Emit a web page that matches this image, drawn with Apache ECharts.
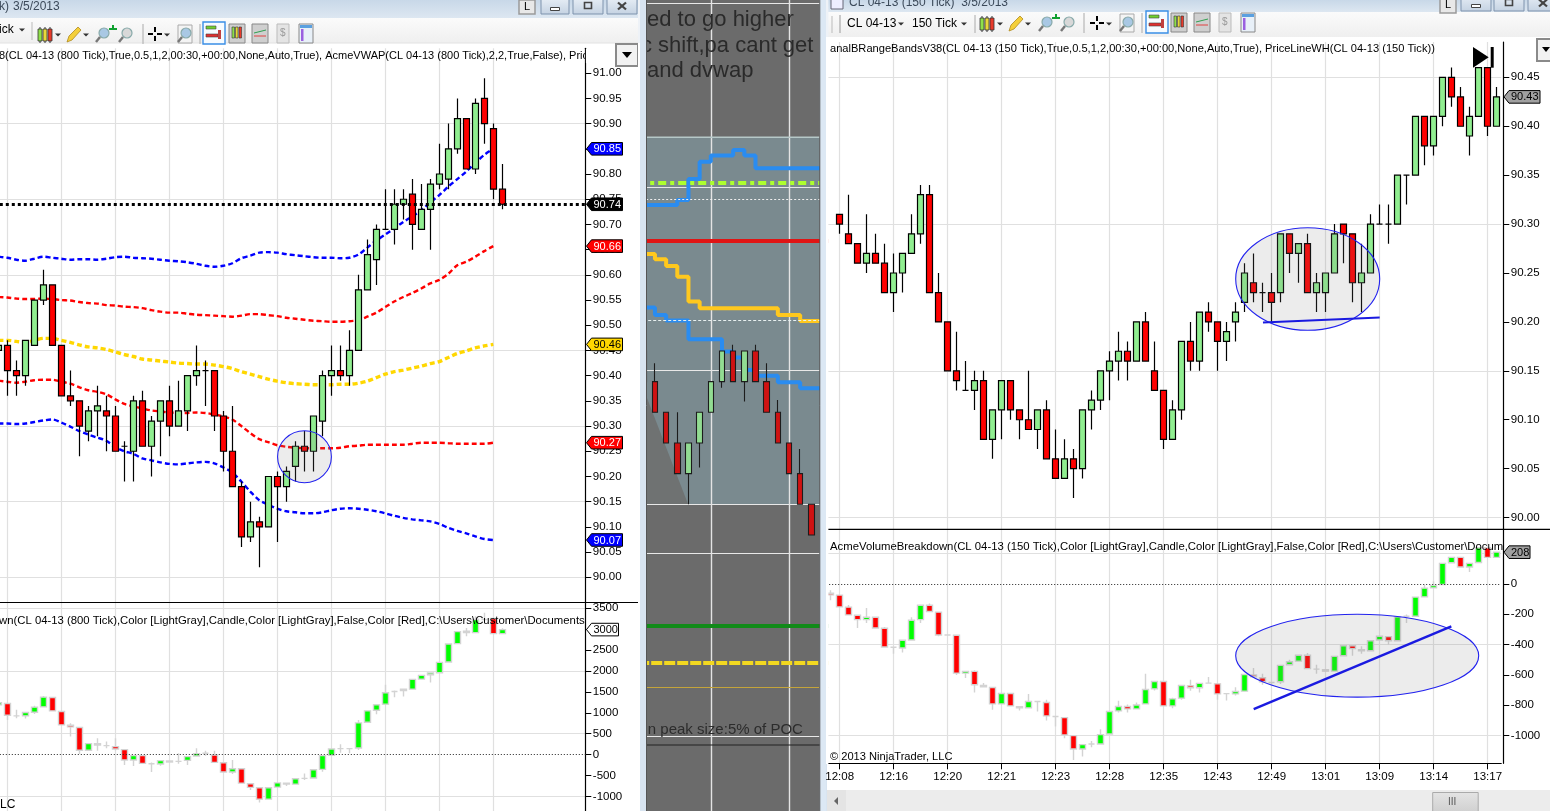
<!DOCTYPE html>
<html><head><meta charset="utf-8">
<style>html,body{margin:0;padding:0;background:#d8e4f0;overflow:hidden}#c{width:1550px;height:811px}</style>
<script src="https://cdn.jsdelivr.net/npm/echarts@6/dist/echarts.min.js"></script></head>
<body><div id="c"></div>
<script>
// ---------- LEFT CHART (800 tick) : bar k = -1 .. 55 ; [open, close, low, high]
const leftPrice=[[90.45,90.46,90.44,90.46],[90.46,90.41,90.36,90.47],[90.41,90.40,90.36,90.43],[90.40,90.47,90.38,90.47],[90.46,90.55,90.46,90.55],[90.55,90.58,90.54,90.61],[90.58,90.46,90.46,90.58],[90.46,90.36,90.36,90.46],[90.36,90.35,90.34,90.41],[90.35,90.30,90.24,90.35],[90.29,90.33,90.27,90.34],[90.33,90.34,90.28,90.38],[90.33,90.32,90.25,90.36],[90.32,90.25,90.25,90.34],[90.26,90.26,90.19,90.27],[90.25,90.35,90.19,90.36],[90.35,90.26,90.26,90.37],[90.26,90.31,90.20,90.32],[90.31,90.35,90.24,90.35],[90.35,90.30,90.28,90.38],[90.30,90.33,90.30,90.39],[90.33,90.40,90.29,90.40],[90.40,90.41,90.38,90.46],[90.41,90.41,90.34,90.43],[90.41,90.32,90.29,90.41],[90.32,90.25,90.21,90.33],[90.25,90.18,90.18,90.34],[90.18,90.08,90.06,90.19],[90.08,90.11,90.07,90.15],[90.11,90.10,90.02,90.12],[90.10,90.20,90.10,90.20],[90.20,90.18,90.07,90.21],[90.18,90.21,90.15,90.22],[90.22,90.26,90.19,90.27],[90.26,90.25,90.21,90.29],[90.25,90.32,90.21,90.32],[90.31,90.40,90.28,90.41],[90.40,90.41,90.36,90.46],[90.41,90.40,90.39,90.46],[90.40,90.45,90.38,90.49],[90.45,90.57,90.45,90.60],[90.57,90.64,90.57,90.67],[90.63,90.69,90.58,90.70],[90.69,90.69,90.69,90.77],[90.69,90.74,90.66,90.77],[90.74,90.75,90.71,90.77],[90.76,90.70,90.65,90.79],[90.69,90.73,90.69,90.78],[90.73,90.78,90.65,90.79],[90.78,90.80,90.77,90.86],[90.79,90.85,90.77,90.90],[90.85,90.91,90.84,90.95],[90.91,90.81,90.81,90.91],[90.81,90.94,90.80,90.95],[90.95,90.90,90.86,90.99],[90.89,90.77,90.75,90.90],[90.77,90.74,90.73,90.82]];
const leftUpper2=[90.636,90.634,90.630,90.628,90.632,90.636,90.634,90.632,90.630,90.631,90.631,90.630,90.632,90.635,90.636,90.634,90.633,90.632,90.630,90.628,90.627,90.625,90.622,90.618,90.616,90.618,90.623,90.633,90.638,90.644,90.645,90.644,90.641,90.639,90.637,90.635,90.634,90.634,90.633,90.634,90.640,90.654,90.668,90.680,90.692,90.705,90.716,90.728,90.744,90.758,90.775,90.790,90.805,90.822,90.838,90.850];
const leftUpper1=[90.556,90.555,90.553,90.552,90.552,90.553,90.552,90.550,90.549,90.546,90.544,90.543,90.540,90.539,90.537,90.536,90.534,90.530,90.527,90.525,90.525,90.523,90.521,90.520,90.519,90.518,90.517,90.519,90.522,90.522,90.520,90.518,90.515,90.513,90.511,90.509,90.508,90.507,90.507,90.508,90.510,90.517,90.525,90.536,90.547,90.556,90.564,90.573,90.583,90.590,90.602,90.619,90.626,90.636,90.647,90.657];
const leftMid=[90.470,90.470,90.468,90.466,90.470,90.474,90.474,90.470,90.466,90.461,90.457,90.455,90.452,90.447,90.442,90.438,90.433,90.431,90.429,90.427,90.425,90.424,90.423,90.423,90.421,90.418,90.414,90.408,90.403,90.398,90.393,90.389,90.386,90.384,90.383,90.382,90.382,90.382,90.383,90.383,90.385,90.389,90.396,90.403,90.408,90.411,90.415,90.419,90.424,90.428,90.436,90.444,90.449,90.455,90.459,90.462];
const leftLower1=[90.390,90.388,90.386,90.388,90.391,90.392,90.392,90.388,90.384,90.377,90.371,90.368,90.363,90.353,90.344,90.339,90.335,90.331,90.329,90.327,90.326,90.326,90.327,90.326,90.323,90.319,90.313,90.300,90.286,90.274,90.268,90.262,90.259,90.257,90.256,90.256,90.256,90.256,90.257,90.260,90.261,90.263,90.263,90.263,90.263,90.263,90.265,90.267,90.267,90.267,90.266,90.265,90.265,90.265,90.265,90.267];
const leftLower2=[90.305,90.305,90.304,90.305,90.308,90.311,90.313,90.307,90.299,90.290,90.283,90.277,90.271,90.258,90.250,90.245,90.236,90.232,90.228,90.225,90.224,90.226,90.228,90.229,90.226,90.218,90.208,90.190,90.170,90.153,90.144,90.136,90.131,90.129,90.127,90.127,90.129,90.133,90.136,90.137,90.136,90.134,90.131,90.127,90.122,90.118,90.115,90.113,90.111,90.106,90.098,90.092,90.087,90.081,90.076,90.074];
const leftLastPrice=90.74;
const leftVolume=[[1190,1240,1190,1250],[1222,942,830,1222],[926,926,870,1070],[926,1006,860,1020],[1014,1134,970,1170],[1142,1374,1142,1400],[1366,1046,1046,1366],[1030,710,710,1030],[702,662,430,750],[646,102,14,646],[102,262,102,262],[262,230,94,390],[214,214,150,310],[190,134,100,390],[118,-130,-250,118],[-130,-26,-274,-26],[-26,-210,-210,-26],[-218,-218,-418,-190],[-226,-146,-266,-146],[-154,-178,-178,-154],[-162,-162,-220,30],[-138,-50,-250,-50],[-34,22,-34,150],[30,30,-30,94],[-10,-186,-186,94],[-194,-418,-418,-194],[-418,-338,-466,-130],[-338,-682,-682,-338],[-698,-786,-850,-698],[-794,-1066,-1146,-794],[-1066,-794,-1066,-794],[-778,-678,-790,-678],[-682,-706,-754,-682],[-706,-578,-706,-578],[-570,-570,-610,-450],[-562,-362,-562,-362],[-354,-26,-410,-26],[-18,134,-18,134],[142,142,46,246],[142,142,30,160],[158,758,110,830],[774,1046,774,1046],[1062,1190,966,1190],[1206,1478,1206,1670],[1510,1510,1374,1530],[1534,1566,1390,1566],[1566,1798,1566,1798],[1806,1894,1806,1894],[1910,1950,1726,1950],[1958,2206,1958,2206],[2214,2646,2214,2660],[2654,2942,2654,2942],[2950,2918,2830,3030],[2918,3230,2918,3310],[3230,3230,3230,3390],[3254,2894,2894,3254],[2894,2990,2894,3020]];
// ---------- MIDDLE PANEL : bar k = 0 .. 15
const midPrice=[[90.05,90.04,90.04,90.05],[90.04,90.03,90.03,90.046],[90.03,90.02,90.02,90.03],[90.02,90.01,90.01,90.03],[90.01,90.02,90.00,90.02],[90.02,90.03,90.012,90.03],[90.03,90.04,90.03,90.04],[90.04,90.05,90.038,90.05],[90.05,90.04,90.04,90.052],[90.04,90.05,90.0335,90.05],[90.05,90.04,90.04,90.052],[90.04,90.03,90.03,90.046],[90.03,90.02,90.02,90.034],[90.02,90.01,90.01,90.02],[90.01,90.00,90.00,90.018],[90.00,89.99,89.99,90.00]];
const midBlueUpper=[90.0976,90.0976,90.0976,90.0992,90.1061,90.1117,90.1137,90.1137,90.1155,90.1137,90.1096,90.1096,90.1096,90.1096,90.1096,90.1096,90.1096];
const midYellow=[90.0816,90.0799,90.0777,90.0742,90.0661,90.0639,90.0639,90.0639,90.0639,90.0639,90.0639,90.0639,90.0617,90.0617,90.0598,90.0598,90.0598];
const midBlueLower=[90.0642,90.0617,90.0599,90.0599,90.0538,90.0538,90.0538,90.0498,90.0479,90.0438,90.0419,90.0419,90.0398,90.0398,90.0378,90.0378,90.0378];
const midLevels={lime:90.105,dottedUp:90.0994,red:90.086,dottedLow:90.0599,green:89.9603,yellow:89.9485,gold:89.9405};
const midGridValues=[90.1635,90.1034,90.0438,90.0,89.984,89.9245];
// ---------- RIGHT CHART (150 tick) : bar k = -1 .. 73
const rightTimes=['12:08','12:16','12:20','12:21','12:23','12:28','12:35','12:43','12:49','13:01','13:09','13:14','13:17'];
const rightPrice=[[null,null,null,null],[90.31,90.30,90.29,90.31],[90.29,90.28,90.28,90.33],[90.28,90.26,90.26,90.28],[90.26,90.27,90.25,90.31],[90.27,90.26,90.26,90.29],[90.26,90.23,90.23,90.28],[90.23,90.25,90.21,90.27],[90.25,90.27,90.23,90.27],[90.27,90.29,90.27,90.31],[90.29,90.33,90.28,90.34],[90.33,90.23,90.23,90.34],[90.23,90.20,90.20,90.25],[90.20,90.15,90.15,90.20],[90.15,90.14,90.13,90.19],[90.13,90.13,90.13,90.16],[90.13,90.14,90.11,90.15],[90.14,90.08,90.08,90.15],[90.08,90.11,90.06,90.11],[90.11,90.14,90.08,90.14],[90.14,90.11,90.10,90.14],[90.11,90.10,90.08,90.11],[90.10,90.09,90.09,90.15],[90.09,90.11,90.07,90.11],[90.11,90.06,90.06,90.12],[90.06,90.04,90.04,90.09],[90.04,90.06,90.04,90.08],[90.06,90.05,90.02,90.07],[90.05,90.11,90.04,90.11],[90.11,90.12,90.09,90.13],[90.12,90.15,90.11,90.15],[90.15,90.16,90.12,90.17],[90.16,90.17,90.14,90.19],[90.17,90.16,90.14,90.18],[90.16,90.20,90.16,90.20],[90.20,90.16,90.16,90.21],[90.15,90.13,90.13,90.18],[90.13,90.08,90.07,90.13],[90.08,90.11,90.08,90.12],[90.11,90.18,90.10,90.18],[90.18,90.16,90.15,90.20],[90.16,90.21,90.15,90.21],[90.21,90.20,90.19,90.22],[90.20,90.18,90.15,90.20],[90.18,90.19,90.16,90.20],[90.20,90.21,90.18,90.22],[90.22,90.25,90.21,90.26],[90.24,90.23,90.22,90.27],[90.23,90.23,90.21,90.24],[90.23,90.22,90.20,90.25],[90.23,90.29,90.22,90.29],[90.29,90.27,90.25,90.29],[90.27,90.28,90.24,90.28],[90.28,90.23,90.23,90.29],[90.23,90.24,90.21,90.25],[90.23,90.25,90.21,90.25],[90.25,90.29,90.25,90.30],[90.30,90.29,90.26,90.30],[90.29,90.24,90.22,90.29],[90.24,90.25,90.21,90.28],[90.25,90.30,90.25,90.31],[90.30,90.30,90.30,90.32],[90.30,90.30,90.28,90.32],[90.30,90.35,90.30,90.35],[90.35,90.35,90.32,90.35],[90.35,90.41,90.35,90.41],[90.41,90.38,90.36,90.41],[90.38,90.41,90.37,90.41],[90.41,90.45,90.40,90.45],[90.45,90.43,90.42,90.46],[90.43,90.40,90.40,90.44],[90.39,90.41,90.37,90.42],[90.41,90.46,90.41,90.46],[90.46,90.40,90.39,90.46],[90.40,90.43,90.40,90.44]];
const rightVolume=[[-62,-73,-108,-42],[-75,-152,-152,-75],[-154,-205,-205,-140],[-207,-236,-291,-207],[-236,-220,-258,-159],[-220,-291,-291,-220],[-293,-416,-416,-285],[-418,-418,-460,-416],[-423,-372,-452,-372],[-370,-240,-370,-220],[-236,-141,-258,-141],[-141,-183,-183,-130],[-187,-337,-346,-187],[-337,-337,-337,-337],[-339,-588,-601,-339],[-588,-577,-621,-577],[-577,-665,-716,-570],[-670,-678,-678,-654],[-683,-791,-830,-683],[-791,-722,-791,-722],[-722,-804,-804,-722],[-810,-817,-835,-810],[-817,-775,-817,-725],[-775,-775,-841,-775],[-782,-870,-901,-764],[-874,-874,-940,-874],[-881,-995,-1017,-881],[-1000,-1088,-1160,-1000],[-1088,-1059,-1138,-1059],[-1055,-1055,-1077,-1035],[-1055,-993,-1055,-958],[-989,-841,-989,-841],[-837,-808,-848,-771],[-808,-824,-848,-795],[-824,-798,-824,-782],[-791,-696,-791,-593],[-692,-643,-703,-643],[-643,-804,-804,-643],[-804,-758,-819,-750],[-753,-670,-764,-670],[-672,-685,-705,-632],[-685,-656,-716,-656],[-654,-654,-654,-614],[-659,-725,-764,-659],[-723,-723,-769,-723],[-725,-709,-735,-681],[-707,-597,-707,-597],[-601,-612,-612,-555],[-619,-645,-665,-592],[-650,-650,-665,-650],[-645,-537,-660,-537],[-533,-513,-533,-500],[-509,-471,-509,-471],[-471,-559,-559,-456],[-562,-562,-592,-533],[-566,-575,-575,-566],[-575,-478,-575,-478],[-474,-408,-474,-408],[-408,-427,-474,-408],[-434,-441,-460,-412],[-441,-375,-441,-375],[-370,-346,-370,-346],[-348,-375,-401,-348],[-375,-218,-375,-218],[-214,-214,-258,-203],[-214,-88,-214,-88],[-86,-29,-86,-5],[-27,-11,-27,17],[-5,134,-5,134],[138,174,138,174],[174,110,110,174],[110,134,77,134],[140,237,140,237],[237,174,174,237],[174,208,174,208]];
const leftPriceTicks=[90,90.05,90.1,90.15,90.2,90.25,90.3,90.35,90.4,90.45,90.5,90.55,90.6,90.65,90.7,90.75,90.8,90.85,90.9,90.95,91];
const leftPriceGrid=[90,90.15,90.3,90.45,90.6,90.75,90.9];
const leftVolTicks=[-1000,-500,0,500,1000,1500,2000,2500,3000,3500];
const leftVolGrid=[-1000,500,2000,3500];
const rightPriceTicks=[90,90.05,90.1,90.15,90.2,90.25,90.3,90.35,90.4,90.45];
const rightPriceGrid=[90,90.15,90.3,90.45];
const rightVolTicks=[-1000,-800,-600,-400,-200,0];
const rightVolGrid=[-1000,-400,200];

// ---------- layout
const F='"Liberation Sans",Arial,sans-serif';
const BAND=9, GRID='#e0e0e0';
const L={left:-6.2,width:594,band:BAND,n:66,k0:-1};
const R={left:826.2,width:675,band:BAND,n:75,k0:-1};
const M={left:638.2,width:189.9,n:17};
const G={outerBoundsMode:'none',containLabel:false};
const grids=[
 Object.assign({left:L.left,top:48.3,width:L.width,height:554.2},G),
 Object.assign({left:L.left,top:602.5,width:L.width,height:208.5},G),
 Object.assign({left:M.left,top:0,width:M.width,height:811},G),
 Object.assign({left:R.left,top:42,width:R.width,height:487.3},G),
 Object.assign({left:R.left,top:529.3,width:R.width,height:234},G)
];
const idx=n=>Array.from({length:n},(_,i)=>String(i));
const leftCats=idx(L.n);
const rightCats=idx(R.n).map((s,i)=>{const k=i-1;return k%6===0&&k>=0?rightTimes[k/6]||'':''});
const leftGridOn=i=>{const k=i-1;return k>=0&&k<=54&&k%6===0};
const rightGridOn=i=>{const k=i-1;return k>=0&&k%6===0};
function xa(grid,cats,on,extra){return Object.assign({type:'category',gridIndex:grid,data:cats,boundaryGap:true,
  axisLine:{show:false},axisTick:{show:false},axisLabel:{show:false},
  splitLine:{show:true,alignWithLabel:true,interval:(i)=>on(i),lineStyle:{color:GRID,width:1.2}}},extra||{})}
function yMain(grid,min,max,ticks,offset,fmt){return {type:'value',gridIndex:grid,min,max,position:'right',offset,scale:true,
  axisLine:{show:true,onZero:false,lineStyle:{color:'#000',width:1.2}},
  axisTick:{show:true,length:6,customValues:ticks,lineStyle:{color:'#000',width:1}},
  axisLabel:{show:true,customValues:ticks,margin:7.5,padding:[2,0,0,0],color:'#000',fontFamily:F,fontSize:11.5,formatter:fmt,hideOverlap:false},
  splitLine:{show:false}}}
function ySplit(grid,min,max,vals,color){return {type:'value',gridIndex:grid,min,max,position:'left',scale:true,
  axisLine:{show:false},axisLabel:{show:false},
  axisTick:{show:false,customValues:vals},
  splitLine:{show:true,lineStyle:{color:color||GRID,width:1.2}}}}
const f2=v=>(+v).toFixed(2), f0=v=>String(Math.round(v));
const LPmin=89.95,LPmax=91.0494,LVmin=-1350,LVmax=3638,MPmin=89.9,MPmax=90.16443,RPmin=89.988,RPmax=90.4861,RVmin=-1182,RVmax=358.6;
const priceStyle={color:'#90EE90',color0:'#FF0000',borderColor:'#000',borderColor0:'#000',borderColorDoji:'#000',borderWidth:1.2};
const volStyle={color:'#00FF00',color0:'#FF0000',borderColor:'#d3d3d3',borderColor0:'#d3d3d3',borderColorDoji:'#d3d3d3',borderWidth:1.4};
const midStyle={color:'#92dc92',color0:'#d01212',borderColor:'#1c1c1c',borderColor0:'#1c1c1c',borderColorDoji:'#1c1c1c',borderWidth:1.1};
function candles(x,y,data,style,w,extra){return Object.assign({type:'candlestick',xAxisIndex:x,yAxisIndex:y,data,barWidth:w,itemStyle:style,z:3,silent:true,clip:true},extra||{})}
function band(y,data,color,width){return {type:'line',xAxisIndex:0,yAxisIndex:y,data,smooth:0.3,showSymbol:false,symbol:'none',z:2,silent:true,lineStyle:{color,width,type:[5,3]}}}
function hline(x,y,value,color,width,type){return {type:'line',xAxisIndex:x,yAxisIndex:y,data:[],z:2,silent:true,
  markLine:{silent:true,symbol:'none',precision:4,animation:false,label:{show:false},data:[{yAxis:value}],lineStyle:{color,width,type}}}}
function step(y,data,color){return {type:'line',xAxisIndex:2,yAxisIndex:y,data,step:'end',showSymbol:false,symbol:'none',z:2,silent:true,lineStyle:{color,width:4}}}

const option={animation:false,backgroundColor:'#d8e4f0',tooltip:{show:false},legend:{show:false},
 grid:grids,
 xAxis:[
  xa(0,leftCats,leftGridOn),
  xa(1,leftCats,leftGridOn),
  xa(2,idx(M.n),i=>i%7===6,{splitLine:{show:true,alignWithLabel:true,interval:i=>i%7===6,lineStyle:{color:'#e4e4e4',width:1.4}}}),
  xa(3,rightCats,rightGridOn),
  xa(4,rightCats,rightGridOn,{
    axisLine:{show:true,onZero:false,lineStyle:{color:'#000',width:1.2}},
    axisTick:{show:true,alignWithLabel:true,length:6,interval:rightGridOn,lineStyle:{color:'#000'}},
    axisLabel:{show:true,interval:rightGridOn,color:'#000',fontFamily:F,fontSize:11.5,margin:8}})
 ],
 yAxis:[
  yMain(0,LPmin,LPmax,leftPriceTicks,-2.5,f2), ySplit(0,LPmin,LPmax,leftPriceGrid),
  yMain(1,LVmin,LVmax,leftVolTicks,-2.5,f0), ySplit(1,LVmin,LVmax,leftVolGrid),
  ySplit(2,MPmin,MPmax,midGridValues,'#e8e8e8'),
  yMain(3,RPmin,RPmax,rightPriceTicks,2.1,f2), ySplit(3,RPmin,RPmax,rightPriceGrid),
  yMain(4,RVmin,RVmax,rightVolTicks,2.1,f0), ySplit(4,RVmin,RVmax,rightVolGrid)
 ],
 series:[
  band(0,leftUpper2,'#0000ff',2.4), band(0,leftUpper1,'#ff0000',2.4), band(0,leftMid,'#ffd700',3.4), band(0,leftLower1,'#ff0000',2.4), band(0,leftLower2,'#0000ff',2.4),
  candles(0,0,leftPrice,priceStyle,6),
  hline(0,0,leftLastPrice,'#000',3,[3,3]),
  candles(1,2,leftVolume,volStyle,6),
  hline(1,2,0,'#222',1,[1,2]),
  step(4,midBlueUpper,'#2a8cf0'), step(4,midYellow,'#ffc81e'), step(4,midBlueLower,'#2a8cf0'),
  hline(2,4,midLevels.lime,'#adff2f',4,[8,4,4,4]),
  hline(2,4,midLevels.dottedUp,'#f0f0f0',1,[2,2]),
  hline(2,4,midLevels.red,'#e01414',4,'solid'),
  hline(2,4,midLevels.dottedLow,'#e8f0f0',1,[3,2]),
  hline(2,4,midLevels.green,'#118a18',4,'solid'),
  hline(2,4,midLevels.yellow,'#f2d820',4,[11,2]),
  hline(2,4,midLevels.gold,'#c4a43a',1,'solid'),
  candles(2,4,midPrice,midStyle,6),
  candles(3,5,rightPrice,priceStyle,6),
  candles(4,7,rightVolume,volStyle,6),
  hline(4,7,0,'#222',1,[1,2])
 ]};
const chart=echarts.init(document.getElementById('c'),null,{renderer:'canvas',width:1550,height:811});
chart.setOption(option);

// ---------- chrome + annotations
const E=[];
const LG=(a,b)=>new echarts.graphic.LinearGradient(0,0,0,1,[{offset:0,color:a},{offset:1,color:b}]);
const rect=(x,y,w,h,fill,z,stroke,lw)=>E.push({type:'rect',z:z==null?-10:z,silent:true,shape:{x,y,width:w,height:h},style:{fill,stroke:stroke||null,lineWidth:lw||1}});
const line=(x1,y1,x2,y2,stroke,lw,z)=>E.push({type:'line',z:z==null?60:z,silent:true,shape:{x1,y1,x2,y2},style:{stroke,lineWidth:lw||1}});
const txt=(x,y,text,size,fill,z,opts)=>E.push({type:'text',z:z==null?60:z,silent:true,style:Object.assign({x,y,text,fill:fill||'#000',font:(size||12)+'px '+F,textVerticalAlign:'middle',textBaseline:'middle'},opts||{})});
const poly=(pts,fill,z,stroke,lw)=>E.push({type:'polygon',z:z==null?60:z,silent:true,shape:{points:pts},style:{fill,stroke:stroke||null,lineWidth:lw||1}});
const circ=(cx,cy,r,fill,stroke,lw,z)=>E.push({type:'circle',z:z==null?60:z,silent:true,shape:{cx,cy,r},style:{fill,stroke,lineWidth:lw||1}});
// panels
rect(0,43,640,768,'#fff');
rect(827,37,723,753,'#fff');
rect(646.5,0,173,811,'#6b6b6b');
rect(646.5,137,173,367,'#7a8a8f');
poly([[647,398],[688,504],[647,504]],'#6f7272',-9);
line(647,137.3,820,137.3,'#b6c8c8',1.4,1);
// covers for the clipped middle chart
rect(638,0,2,43,'#eef2f7',100);
rect(638,43,2,768,'#fff',100);
rect(640,0,6.5,811,'#d8e4f0',100);
rect(820,0,6,811,'#dce8f4',100);
rect(826,37,2.4,727,'#fff',100);
rect(826,0,2.4,37,'#eef2f7',100);
line(646.5,0,646.5,811,'#555',1,100);
line(819.8,0,819.8,811,'#555',1,100);
// window chrome
function bars(x,y,w){
 const c=['#8fe04a','#e8d83a','#e83a2a'];for(let i=0;i<3;i++){rect(x+i*w/3,y+2,w/3-1,12,c[i],70,'#333',0.8);line(x+i*w/3+w/6-.5,y,x+i*w/3+w/6-.5,y+16,'#333',1,69);}
}
function drop(x,y){poly([[x-3,y-1.5],[x+3,y-1.5],[x,y+1.5]],'#333',70)}
function mag(x,y,c){circ(x+8,y+6,5,c,'#8aa',1.2,70);line(x+4,y+10,x,y+15,'#777',2.4,70)}
function cross(x,y){line(x+7,y,x+7,y+5,'#000',2,70);line(x+7,y+9,x+7,y+14,'#000',2,70);line(x,y+7,x+5,y+7,'#000',2,70);line(x+9,y+7,x+14,y+7,'#000',2,70)}
function pencil(x,y){poly([[x,y+15],[x+2,y+9],[x+11,y],[x+14,y+3],[x+5,y+13]],'#f4cf3a',70,'#b08a20',0.8)}
function boxIcon(x,y,w,h,c){rect(x,y,w,h,c||'#d8d8d8',70,'#888',1)}
function winBtn(x,y,w,h,kind){rect(x,y,w,h,LG('#e6edf5','#c4d2e2'),70,'#7e93ad',1);
 const cx=x+w/2,cy=y+h/2;
 if(kind==='min')rect(cx-4.5,cy+1,9,3,'#fff',71,'#444',1);
 if(kind==='max')rect(cx-3.5,cy-4,7,6,'none',71,'#444',1.6);
 if(kind==='close'){line(cx-4,cy-4,cx+4,cy+3,'#444',2.2,71);line(cx+4,cy-4,cx-4,cy+3,'#444',2.2,71)}}
function toolbarIcons(a){bars(a.c,a.y,15);drop(a.c+20,a.y+8);pencil(a.p,a.y);drop(a.p+19,a.y+8);mag(a.z1,a.y,'#a9c8e4');
 poly([[a.z1+13,a.y+1],[a.z1+16,a.y+1],[a.z1+16,a.y-2],[a.z1+18,a.y-2],[a.z1+18,a.y+1],[a.z1+21,a.y+1],[a.z1+21,a.y+3],[a.z1+13,a.y+3]],'#10a030',71);
 mag(a.z2,a.y,'#d8d8d8');
 line(a.s1,a.y-3,a.s1,a.y+17,'#aaa',1,70);cross(a.cr,a.y);drop(a.cr+19,a.y+8);
 rect(a.m,a.y-2,14,18,'#f4f4f4',70,'#aaa',1);mag(a.m,a.y,'#a9c8e4');line(a.s2,a.y-3,a.s2,a.y+17,'#aaa',1,70);
 rect(a.sel,a.y-5,22,22,'#f6fbff',70,'#3a8ee6',1.4);
 rect(a.sel+3,a.y-1,10,3,'#70d030',71,'#444',.6);rect(a.sel+3,a.y+7,12,3,'#e03030',71,'#444',.6);rect(a.sel+15,a.y+3,3,9,'#c04040',71,null);
 boxIcon(a.i1,a.y-3,16,19,'#cfcfcf');rect(a.i1+3,a.y,2.5,11,'#8fe04a',71,'#333',.6);rect(a.i1+6.5,a.y,2.5,11,'#e8d83a',71,'#333',.6);rect(a.i1+10,a.y,2.5,11,'#e83a2a',71,'#333',.6);
 boxIcon(a.i2,a.y-3,16,19,'#cfcfcf');line(a.i2+2,a.y+6,a.i2+14,a.y+3,'#30a050',1,71);line(a.i2+2,a.y+9,a.i2+14,a.y+9,'#e04040',1,71);
 rect(a.i3,a.y-3,12,19,'#e4e4e4',70,'#bbb',1);txt(a.i3+3,a.y+6,'$',10,'#999',71);
 boxIcon(a.i4,a.y-3,14,19,'#e8f0f8');rect(a.i4+1,a.y-2,12,3,'#5aa0e0',71);rect(a.i4+2,a.y+2,2.5,12,'#9a60e0',71);}
// left window
rect(0,0,640,18,LG('#c8d8e8','#dde7f1'),50);
rect(0,18,640,25,LG('#fbfbfb','#efefef'),50);
line(0,43,640,43,'#e2e2e2',1,51);
txt(-1,7,'k)',12,'#3c4a5a',60);txt(13,7,'3/5/2013',12,'#3c4a5a',60);
txt(-1,30,'ick',12,'#000',60);drop(22,30);
toolbarIcons({y:27,c:38,p:67,z1:96,z2:119,s1:143,cr:148,m:178,s2:200,sel:203,i1:229,i2:252,i3:277,i4:299});
line(32,22,32,40,'#bbb',1,70);
rect(519,0,16,14,'#e8e8e8',70,'#9a9a9a',1.5);txt(524,7,'L',11,'#000',71);
winBtn(541,-1,28,15,'min');winBtn(573,-1,30,15,'max');winBtn(607,-1,30,15,'close');
rect(616,44,22,22,'#f2f2f2',70,'#8a8a8a',2);poly([[622,52],[632,52],[627,58]],'#000',71);
line(0,602.5,640,602.5,'#000',1.2,51);
txt(-1,55.5,'8(CL 04-13 (800 Tick),True,0.5,1,2,00:30,+00:00,None,Auto,True), AcmeVWAP(CL 04-13 (800 Tick),2,2,True,False), Pric',11,'#000',60);
rect(585.9,49,6,14,'#fff',61);
txt(-1,620.5,'wn(CL 04-13 (800 Tick),Color [LightGray],Candle,Color [LightGray],False,Color [Red],C:\\Users\\Customer\\Documents',11.33,'#000',60);
txt(0,805,'LC',12,'#000',60);
// right window
rect(827,0,723,12,LG('#c8d8e8','#dde7f1'),50);
rect(827,12,723,25,LG('#fbfbfb','#efefef'),50);
txt(849,3,'CL 04-13 (150 Tick)  3/5/2013',12,'#3c4a5a',60);
rect(831,-1,12,10,'#eef',60,'#667',1);
line(832,16,832,33,'#bbb',1,70);line(840,15,840,33,'#999',1,70);
txt(847,24,'CL 04-13',12,'#000',70);drop(901,24);txt(912,24,'150 Tick',12,'#000',70);drop(964,24);line(975,15,975,33,'#aaa',1,70);
toolbarIcons({y:16,c:980,p:1009,z1:1039,z2:1061,s1:1084,cr:1090,m:1120,s2:1142,sel:1146,i1:1171,i2:1194,i3:1219,i4:1241});
rect(1440,-2,16,15,'#e8e8e8',70,'#9a9a9a',1.5);txt(1445,5,'L',11,'#000',71);
winBtn(1461,-4,30,15,'min');winBtn(1494,-4,30,15,'max');winBtn(1528,-4,30,15,'close');
rect(1537,39,20,22,'#f2f2f2',70,'#8a8a8a',2);poly([[1542,47],[1550,47],[1546,52]],'#000',71);
line(826,529.3,1550,529.3,'#000',1.2,51);
txt(830,49,'analBRangeBandsV38(CL 04-13 (150 Tick),True,0.5,1,2,00:30,+00:00,None,Auto,True), PriceLineWH(CL 04-13 (150 Tick))',11.1,'#000',60);
txt(830,547,'AcmeVolumeBreakdown(CL 04-13 (150 Tick),Color [LightGray],Candle,Color [LightGray],False,Color [Red],C:\\Users\\Customer\\Docum',11.33,'#000',60);
txt(830,757,'\u00A9 2013 NinjaTrader, LLC',11.1,'#000',60);
poly([[1473,47],[1473,67.7],[1488.7,57.3]],'#000',60);rect(1490.7,47,3,20.7,'#000',60);
rect(827,790,723,21,'#ececec',50);rect(827,790,19,21,'#e4e4e4',51);poly([[834,801],[838,797],[838,805]],'#666',60);
rect(1432.7,792.5,45.5,20,LG('#e4e4e4','#cfcfcf'),60,'#aaa',1);txt(1448,802,'III',10,'#555',61);
// middle text
const DK='#2a2a2a';
txt(647,19.5,'ed to go higher',22,DK,60);
txt(641,46,'c shift,pa cant get',22,DK,60);
txt(647,71,'and dvwap',22,DK,60);
txt(644.5,730,'in peak size:5% of POC',15,'#2c2c2c',60);
line(646.5,745,820,745,'#222',1.2,60);

// conversions through the chart's own axes
const py=(yi,v)=>chart.convertToPixel({yAxisIndex:yi},v);
const lx=k=>L.left+(k+1+.5)*L.band, rx=k=>R.left+(k+1+.5)*R.band;
function tag(x0,x1,yi,v,fill,stroke,tc,label){const y=py(yi,v),h=6.3;
 poly([[x0,y],[x0+5,y-h],[x1,y-h],[x1,y+h],[x0+5,y+h]],fill,60,stroke,1);
 txt(x0+7,y+.5,label,11,tc,61);}
const last=a=>a[a.length-1];
tag(586.5,622.5,0,last(leftUpper2),'#0000ff','#000','#fff',last(leftUpper2).toFixed(2));
tag(586.5,622.5,0,leftLastPrice,'#000','#000','#fff',leftLastPrice.toFixed(2));
tag(586.5,622.5,0,last(leftUpper1),'#ff0000','#000','#fff',last(leftUpper1).toFixed(2));
tag(586.5,622.5,0,last(leftMid),'#ffd700','#000','#000',last(leftMid).toFixed(2));
tag(586.5,622.5,0,last(leftLower1),'#ff0000','#000','#fff',last(leftLower1).toFixed(2));
tag(586.5,622.5,0,last(leftLower2),'#0000ff','#000','#fff',last(leftLower2).toFixed(2));
tag(586.5,618.5,2,last(leftVolume)[1],'#fff','#000','#000','3000');
tag(1504,1540,5,last(rightPrice)[1],'#a0a0a0','#000','#000',last(rightPrice)[1].toFixed(2));
tag(1504,1530,7,last(rightVolume)[1],'#a0a0a0','#000','#000',String(last(rightVolume)[1]));
// hand-drawn annotations, anchored to bars & values
function ell(cx,cyPx,rxPx,ryPx){E.push({type:'ellipse',z:55,silent:true,shape:{cx,cy:cyPx,rx:rxPx,ry:ryPx},style:{fill:'rgba(128,128,128,0.15)',stroke:'#2222ee',lineWidth:1.1}})}
function ann(xf,yi,k,v,rk,rv){const cy=py(yi,v);ell(xf(k),cy,rk*BAND,Math.abs(py(yi,v+rv)-cy))}
ann(lx,0,33.02,90.2391,2.99,0.0515);
ann(rx,5,52,90.2439,8,0.0524);
ann(rx,7,57.5,-473.6,13.5,272.8);
line(rx(47.03),py(5,90.1994),rx(60),py(5,90.2045),'#1a1ae0',2,56);
line(rx(46),py(7,-825.6),rx(67.96),py(7,-280),'#1a1ae0',2.4,56);
chart.setOption({graphic:{elements:E}});
</script></body></html>
